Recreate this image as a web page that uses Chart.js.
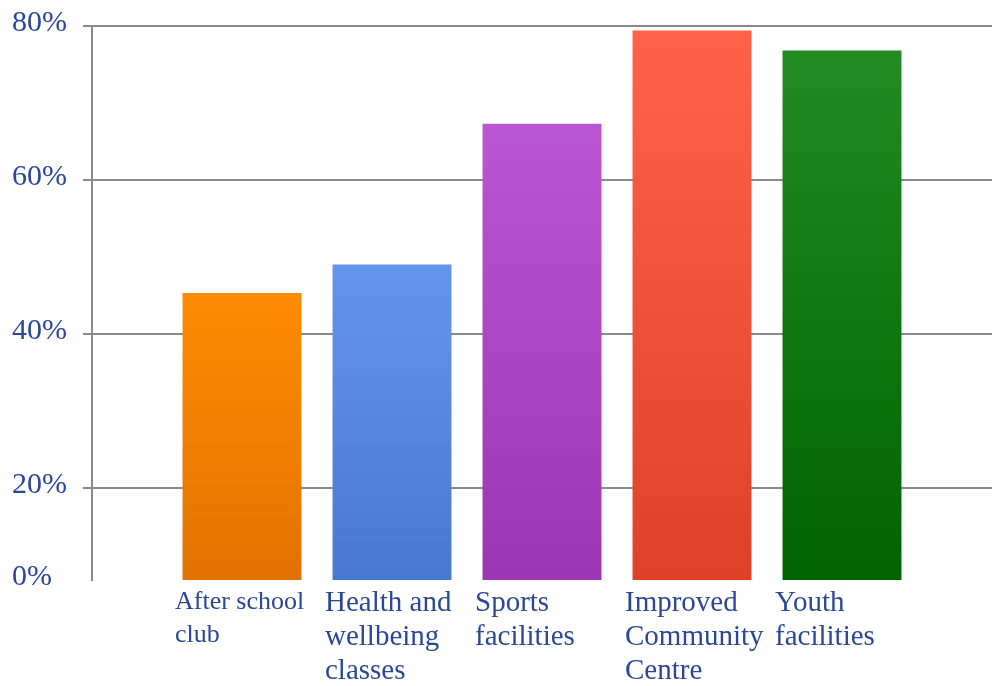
<!DOCTYPE html>
<html>
<head>
<meta charset="utf-8">
<script src="https://cdn.jsdelivr.net/npm/chart.js@4.4.0/dist/chart.umd.min.js"></script>
<style>
	html, body { margin: 0; padding: 0; background: #fff; }
	canvas { display: block; }
</style>
</head>
<body>
<canvas id="chart" width="999" height="686"></canvas>
<script>
// categories (multi-line, as they are broken in the picture)
const categories = [
	["After school", "club"],
	["Health and", "wellbeing", "classes"],
	["Sports", "facilities"],
	["Improved", "Community", "Centre"],
	["Youth", "facilities"]
];
// percent of respondents
const values = [45.3, 49.0, 67.3, 79.4, 76.8];

// y axis: the bottom of the plot sits a little above true 0, but is labelled 0%
const yMin = 8;
const yMax = 80;
const yTickValues = [8, 20, 40, 60, 80];
const yTickLabels = ["0%", "20%", "40%", "60%", "80%"];

// bar colours, top and bottom of the gradient
const topColors = ["#FF8C00", "#6495ED", "#BA55D3", "#FF6347", "#228B22"];
const bottomColors = ["#E27200", "#4877CF", "#9C35B3", "#DF4127", "#006400"];

const textColor = "#2B4898";
const gridColor = "#8A8A8A";
const fontFamily = "'Liberation Serif', 'DejaVu Serif', serif";

// one empty slot at each end so the bars sit away from the axis
const labels = [""].concat(categories, [""]);
const data = [null].concat(values, [null]);

function barColor(ctx) {
	const i = ctx.dataIndex - 1;
	if (i < 0 || i >= values.length) return "rgba(0,0,0,0)";
	const chart = ctx.chart;
	const y = chart.scales.y;
	if (!y || !chart.chartArea) return topColors[i];
	const top = y.getPixelForValue(values[i]);
	const bottom = y.getPixelForValue(yMin);
	if (!isFinite(top) || !isFinite(bottom)) return topColors[i];
	const g = chart.ctx.createLinearGradient(0, top, 0, bottom);
	g.addColorStop(0, topColors[i]);
	g.addColorStop(1, bottomColors[i]);
	return g;
}

const chart = new Chart(document.getElementById("chart").getContext("2d"), {
	type: "bar",
	data: {
		labels: labels,
		datasets: [{
			data: data,
			backgroundColor: barColor,
			borderWidth: 0,
			categoryPercentage: 1,
			barPercentage: 0.793
		}]
	},
	options: {
		responsive: false,
		animation: false,
		layout: {
			padding: { left: 12, right: 7, top: 26, bottom: 0 }
		},
		plugins: {
			legend: { display: false },
			tooltip: { enabled: false }
		},
		scales: {
			x: {
				offset: false,
				grid: { display: false, drawTicks: false },
				border: { display: false },
				ticks: {
					autoSkip: false,
					maxRotation: 0,
					minRotation: 0,
					align: "start",
					labelOffset: -67,
					padding: 6,
					color: textColor,
					font: function(c) {
						if (c.index === 1) return { family: fontFamily, size: 26, lineHeight: "33px" };
						return { family: fontFamily, size: 29, lineHeight: "34px" };
					}
				},
				afterFit: function(s) { s.height = 106; }
			},
			y: {
				min: yMin,
				max: yMax,
				afterBuildTicks: function(s) {
					s.ticks = yTickValues.map(v => ({ value: v }));
				},
				grid: {
					color: function(c) { return c.index === 0 ? "rgba(0,0,0,0)" : gridColor; },
					lineWidth: 2,
					tickLength: 9
				},
				border: { display: true, color: gridColor, width: 2 },
				ticks: {
					crossAlign: "far",
					labelOffset: -3,
					color: textColor,
					font: { family: fontFamily, size: 30 },
					callback: function(v, i) { return yTickLabels[i]; }
				},
				afterFit: function(s) { s.width = 80; }
			}
		}
	}
});
</script>
</body>
</html>
